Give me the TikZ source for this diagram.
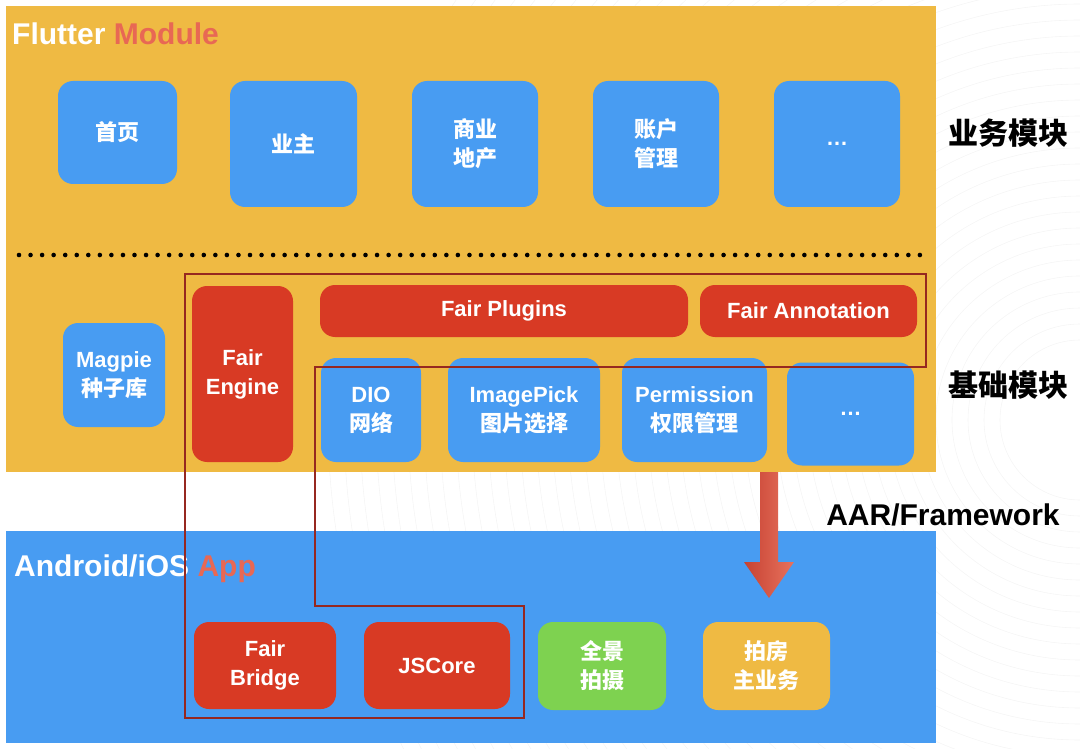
\documentclass[tikz,border=0pt]{standalone}
\usepackage{fontspec}
\setmainfont{Liberation Sans}
\newfontfamily\cjk{Noto Sans CJK SC}
\usetikzlibrary{positioning,calc}
\definecolor{flutteryellow}{RGB}{239,186,67}
\definecolor{appblue}{RGB}{72,156,242}
\definecolor{fairred}{RGB}{216,58,36}
\definecolor{panogreen}{RGB}{126,210,80}
\definecolor{accentred}{RGB}{232,104,84}
\definecolor{outlinered}{RGB}{150,40,32}
\definecolor{arrowdark}{RGB}{198,66,50}
\definecolor{arrowlight}{RGB}{232,114,94}
\definecolor{ripplegray}{RGB}{245,245,245}
\newcommand{\modfont}{\fontsize{22}{29}\selectfont\bfseries}
\tikzset{
  panel/.style={
    draw=none, inner sep=0pt, anchor=north west
  },
  modbox/.style={
    rounded corners=15pt, text=white, align=center,
    inner sep=0pt, font=\modfont
  },
  bizbox/.style={modbox, fill=appblue},
  fairbox/.style={modbox, fill=fairred},
  titletext/.style={
    anchor=base west, inner sep=0pt, text=white,
    font=\fontsize{30}{30}\selectfont\bfseries
  },
  sidelabel/.style={
    inner sep=0pt, text=black,
    font=\fontsize{30}{30}\selectfont\bfseries
  },
  fairline/.style={draw=outlinered, line width=1.3pt},
  dotline/.style={
    draw=black, line width=4.6pt, line cap=round,
    dash pattern=on 0pt off 11.55pt
  },
  ripple/.style={draw=ripplegray, line width=0.6pt}
}

\begin{document}
\begin{tikzpicture}[x=1pt,y=-1pt]

\useasboundingbox (0,0) rectangle (1080,749);

%--------------------------------------------------
% Faint ripples in the background
%--------------------------------------------------
\coordinate (ripplec) at (1080,420);
\begin{scope}
  \clip (0,0) rectangle (1080,749);
  \foreach \r in {80,96,...,760}
    \draw[ripple] (ripplec) circle (\r);
\end{scope}

%--------------------------------------------------
% Layer panels
%--------------------------------------------------
\node[panel, fill=flutteryellow, minimum width=930pt, minimum height=466pt] (flutter) at (6,6) {};
\node[panel, fill=appblue, minimum width=930pt, minimum height=212pt] (app) at (6,531) {};

\node[titletext] (fluttertitle) at (12,45) {Flutter \textcolor{accentred}{Module}};
\node[titletext] (apptitle) at (14,576) {Android/iOS \textcolor{accentred}{App}};

%--------------------------------------------------
% Business modules
%--------------------------------------------------
\node[bizbox, minimum width=119pt, minimum height=103pt] (home) at (117.5,132.5) {\cjk 首页};
\node[bizbox, minimum width=127pt, minimum height=126pt] (owner) at (293.5,144) {\cjk 业主};
\node[bizbox, minimum width=126pt, minimum height=126pt] (estate) at (475,144) {\cjk 商业\\\cjk 地产};
\node[bizbox, minimum width=126pt, minimum height=126pt] (account) at (656,144) {\cjk 账户\\\cjk 管理};
\node[bizbox, minimum width=126pt, minimum height=126pt] (bizmore) at (837,144) {…};

\draw[dotline] (19,255) -- (927,255);

%--------------------------------------------------
% Base modules
%--------------------------------------------------
\node[bizbox, minimum width=102pt, minimum height=104pt] (magpie) at (114,375) {Magpie\\\cjk 种子库};
\node[fairbox, minimum width=101pt, minimum height=176pt] (engine) at (242.5,374) {Fair\\Engine};

\node[fairbox, minimum width=368pt, minimum height=52pt] (plugins) at (504,311) {Fair Plugins};
\node[fairbox, minimum width=217pt, minimum height=52pt] (annot) at (808.5,311) {Fair Annotation};

\node[bizbox, minimum width=100pt, minimum height=104pt] (dio) at (371,410) {DIO\\\cjk 网络};
\node[bizbox, minimum width=152pt, minimum height=104pt] (imgpick) at (524,410) {ImagePick\\\cjk 图片选择};
\node[bizbox, minimum width=145pt, minimum height=104pt] (perm) at (694.5,410) {Permission\\\cjk 权限管理};
\node[bizbox, minimum width=127pt, minimum height=103pt] (basemore) at (850.5,414) {…};

%--------------------------------------------------
% Native app modules
%--------------------------------------------------
\node[fairbox, minimum width=142pt, minimum height=87pt] (bridge) at (265,665.5) {Fair\\Bridge};
\node[fairbox, minimum width=146pt, minimum height=87pt] (jscore) at (437,665.5) {JSCore};
\node[modbox, fill=panogreen, minimum width=128pt, minimum height=88pt] (pano) at (602,666) {\cjk 全景\\\cjk 拍摄};
\node[modbox, fill=flutteryellow, minimum width=127pt, minimum height=88pt] (housebiz) at (766.5,666) {\cjk 拍房\\\cjk 主业务};

%--------------------------------------------------
% Fair outline across both layers
%--------------------------------------------------
\draw[fairline] (185,274) -| (926,367) -| (315,606) -| (524,718) -| (185,274) -- cycle;

%--------------------------------------------------
% AAR/Framework arrow
%--------------------------------------------------
\coordinate (aartop) at (769,472);
\coordinate (aartip) at (769,598);
\shade[left color=arrowdark, right color=arrowlight]
  ($(aartop)+(-9,0)$) -- ($(aartop)+(9,0)$) -- ($(aartip)+(9,-36)$) --
  ($(aartip)+(25,-36)$) -- (aartip) -- ($(aartip)+(-25,-36)$) --
  ($(aartip)+(-9,-36)$) -- cycle;

%--------------------------------------------------
% Side labels
%--------------------------------------------------
\node[sidelabel] (bizlabel) at (1008,133) {\cjk 业务模块};
\node[sidelabel] (baselabel) at (1008,385) {\cjk 基础模块};
\node[sidelabel] (aarlabel) at (943,515) {AAR/Framework};

\end{tikzpicture}
\end{document}
